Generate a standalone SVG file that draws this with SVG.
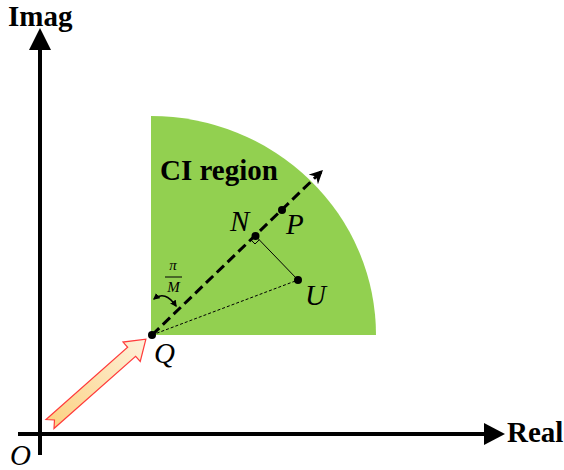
<svg xmlns="http://www.w3.org/2000/svg" width="564" height="470" viewBox="0 0 564 470">
<style>
.lbl{font-family:"Liberation Serif","Times New Roman",serif;fill:#000}
.b{font-weight:bold;font-size:29px}
.i{font-style:italic;font-size:29px}
.axis{stroke:#000;stroke-width:4;fill:none}
.dot{fill:#000}
</style>
<defs>
<linearGradient id="fat" x1="0" y1="0" x2="1" y2="0">
<stop offset="0" stop-color="#fcd283"/>
<stop offset="1" stop-color="#fdf1da"/>
</linearGradient>
<marker id="ah" viewBox="0 0 10 10" refX="9" refY="5" markerWidth="4.5" markerHeight="4.5" orient="auto" markerUnits="strokeWidth">
<path d="M0,0 L10,5 L0,10 L3,5 Z" fill="#000"/>
</marker>
<marker id="sh" viewBox="0 0 10 10" refX="8" refY="5" markerWidth="4.5" markerHeight="4.5" orient="auto-start-reverse" markerUnits="strokeWidth">
<path d="M0,0 L10,5 L0,10 Z" fill="#000"/>
</marker>
</defs>
<g id="ci-region">
<path d="M151,116 A225,219 0 0 1 376,335 L151,335 Z" fill="#92d050"/>
<text class="lbl b" x="160" y="180">CI region</text>
</g>
<g id="axes">
<line class="axis" x1="40" y1="455" x2="40" y2="46"/>
<polygon points="40,28 29,50 51,50" fill="#000"/>
<line class="axis" x1="18" y1="434" x2="487" y2="434"/>
<polygon points="505,434 484,423 484,445" fill="#000"/>
<text class="lbl b" x="8" y="26">Imag</text>
<text class="lbl b" x="507" y="442">Real</text>
<text class="lbl i" x="10" y="465">O</text>
</g>
<g id="connectors">
<line x1="152" y1="335" x2="322" y2="171" stroke="#000" stroke-width="3" stroke-dasharray="10,5" marker-end="url(#ah)"/>
<line x1="152" y1="335" x2="298" y2="280" stroke="#000" stroke-width="1" stroke-dasharray="3,2"/>
<line x1="255.1" y1="235.5" x2="298" y2="280" stroke="#000" stroke-width="1"/>
<polyline points="250.8,239.7 255,244 259.3,239.8" fill="none" stroke="#000" stroke-width="1"/>
<path d="M154,299 Q165,290 176,306" fill="none" stroke="#000" stroke-width="1.5" marker-start="url(#sh)" marker-end="url(#sh)"/>
</g>
<g id="fat-arrow" transform="translate(50,424) rotate(-41.5)">
<polygon points="0,-6 109,-6 109,-13 128,0 109,13 109,6 0,6 6,0" fill="url(#fat)" stroke="#ff3b3b" stroke-width="1.2" stroke-linejoin="miter"/>
</g>
<g id="node-Q">
<circle class="dot" cx="152" cy="335" r="4"/>
<text class="lbl i" x="154" y="363">Q</text>
</g>
<g id="node-N">
<circle class="dot" cx="255.5" cy="236" r="4"/>
<text class="lbl i" x="230" y="231">N</text>
</g>
<g id="node-P">
<circle class="dot" cx="282" cy="210" r="4"/>
<text class="lbl i" x="286" y="234">P</text>
</g>
<g id="node-U">
<circle class="dot" cx="298" cy="280" r="4"/>
<text class="lbl i" x="305" y="305">U</text>
</g>
<g id="angle-label">
<text class="lbl" font-style="italic" font-size="15" x="173" y="270" text-anchor="middle">π</text>
<line x1="165" y1="277" x2="182" y2="277" stroke="#000" stroke-width="1"/>
<text class="lbl" font-style="italic" font-size="15" x="173.5" y="292" text-anchor="middle">M</text>
</g>
</svg>
